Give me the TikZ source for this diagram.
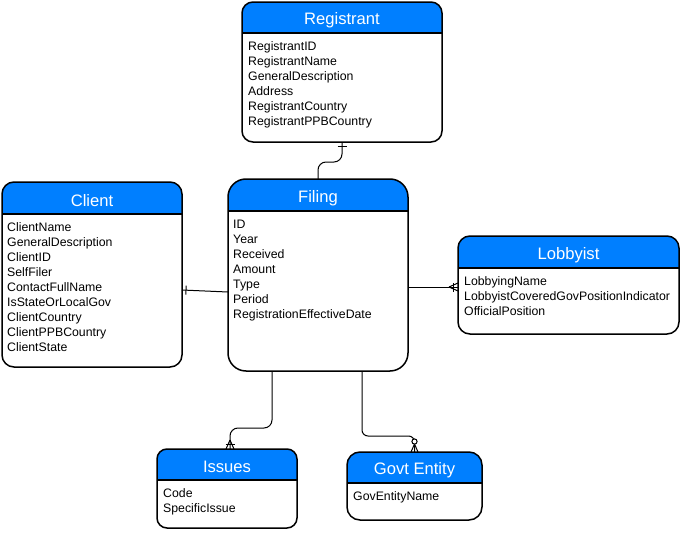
\documentclass[tikz,border=0pt]{standalone}
\usepackage{fontspec}
\setmainfont{Liberation Sans}
\usetikzlibrary{calc,decorations.markings}

\definecolor{headblue}{RGB}{0,127,255}

% header band, frame and rule of an entity box
\newcommand{\erhead}[3]{%
  \begin{scope}
    \clip[rounded corners=#2] (#1.north west) rectangle (#1.south east);
    \fill[headblue] (#1.north west) rectangle ([yshift=-#3]#1.north east);
  \end{scope}
  \draw[erline] ([yshift=-#3]#1.north west) -- ([yshift=-#3]#1.north east);
  \draw[erline,rounded corners=#2] (#1.north west) rectangle (#1.south east);
}

\tikzset{
  erline/.style={line width=1.5pt},
  erconn/.style={line width=1pt},
  one start/.style={postaction={decorate,decoration={markings,
    mark=at position 4pt with {\draw[erconn] (0,-4.5pt) -- (0,4.5pt);}}}},
  onemany end/.style={postaction={decorate,decoration={markings,
    mark=at position 1 with {\draw[erconn] (-9pt,0) -- (0,4pt);
      \draw[erconn] (-9pt,0) -- (0,-4pt);
      \draw[erconn] (-5pt,-4.5pt) -- (-5pt,4.5pt);}}}},
  zeromany end/.style={postaction={decorate,decoration={markings,
    mark=at position 1 with {\draw[erconn] (-8pt,0) -- (0,3.5pt);
      \draw[erconn] (-8pt,0) -- (0,-3.5pt);
      \draw[erconn,fill=white] (-10.5pt,0) circle (2.6pt);}}}}
}

\begin{document}
\begin{tikzpicture}[x=1pt,y=-1pt]
\tikzstyle{entity}=[fill=white,inner sep=0pt,outer sep=0pt]
\tikzstyle{entitytitle}=[text=white,font=\fontsize{16.6}{18}\selectfont,inner sep=0pt]
\tikzstyle{attrlist}=[anchor=north west,align=left,inner sep=0pt,font=\fontsize{12.3}{15}\selectfont]

\useasboundingbox (0,0) rectangle (681,538);

% entities
\node[entity,minimum width=200pt,minimum height=140pt] (registrant) at (342,72) {};
\erhead{registrant}{11pt}{31pt}
\node[entitytitle] (registrant-title) at ([yshift=-18pt]registrant.north) {Registrant};
\node[attrlist] (registrant-attrs) at ([xshift=6pt,yshift=-39.5pt]registrant.north west)
  {RegistrantID\\RegistrantName\\GeneralDescription\\Address\\RegistrantCountry\\RegistrantPPBCountry};

\node[entity,minimum width=180pt,minimum height=185pt] (client) at (92,274.5) {};
\erhead{client}{12pt}{32pt}
\node[entitytitle] (client-title) at ([yshift=-19pt]client.north) {Client};
\node[attrlist] (client-attrs) at ([xshift=5pt,yshift=-40.5pt]client.north west)
  {ClientName\\GeneralDescription\\ClientID\\SelfFiler\\ContactFullName\\IsStateOrLocalGov\\ClientCountry\\ClientPPBCountry\\ClientState};

\node[entity,minimum width=180pt,minimum height=192pt] (filing) at (318,275) {};
\erhead{filing}{18pt}{32pt}
\node[entitytitle] (filing-title) at ([yshift=-19pt]filing.north) {Filing};
\node[attrlist] (filing-attrs) at ([xshift=5pt,yshift=-40.5pt]filing.north west)
  {ID\\Year\\Received\\Amount\\Type\\Period\\RegistrationEffectiveDate};

\node[entity,minimum width=221pt,minimum height=98pt] (lobbyist) at (568.5,285) {};
\erhead{lobbyist}{12pt}{32pt}
\node[entitytitle] (lobbyist-title) at ([yshift=-19pt]lobbyist.north) {Lobbyist};
\node[attrlist] (lobbyist-attrs) at ([xshift=6pt,yshift=-40.5pt]lobbyist.north west)
  {LobbyingName\\LobbyistCoveredGovPositionIndicator\\OfficialPosition};

\node[entity,minimum width=140pt,minimum height=79pt] (issues) at (227,488.5) {};
\erhead{issues}{10pt}{31pt}
\node[entitytitle] (issues-title) at ([yshift=-18pt]issues.north) {Issues};
\node[attrlist] (issues-attrs) at ([xshift=6pt,yshift=-39.5pt]issues.north west)
  {Code\\SpecificIssue};

\node[entity,minimum width=135pt,minimum height=68pt] (govt) at (414.5,486) {};
\erhead{govt}{13pt}{31pt}
\node[entitytitle] (govt-title) at ([yshift=-18pt]govt.north) {Govt Entity};
\node[attrlist] (govt-attrs) at ([xshift=6pt,yshift=-39.5pt]govt.north west)
  {GovEntityName};

% relationships
\draw[erconn,rounded corners=8pt,one start] (registrant.south) |- ([yshift=17pt]filing.north) -- (filing.north);
\draw[erconn,one start] ([yshift=-15.5pt]client.east) -- ([yshift=-17pt]filing.west);
\draw[erconn,onemany end] ([yshift=-12pt]filing.east) -- ([yshift=-2pt]lobbyist.west);
\draw[erconn,rounded corners=8pt,onemany end] ([xshift=-46pt]filing.south) |- ([xshift=3pt,yshift=21pt]issues.north) -- ([xshift=3pt]issues.north);
\draw[erconn,rounded corners=6pt,zeromany end] ([xshift=44pt]filing.south) |- ([yshift=16pt]govt.north) -- (govt.north);
\end{tikzpicture}
\end{document}
